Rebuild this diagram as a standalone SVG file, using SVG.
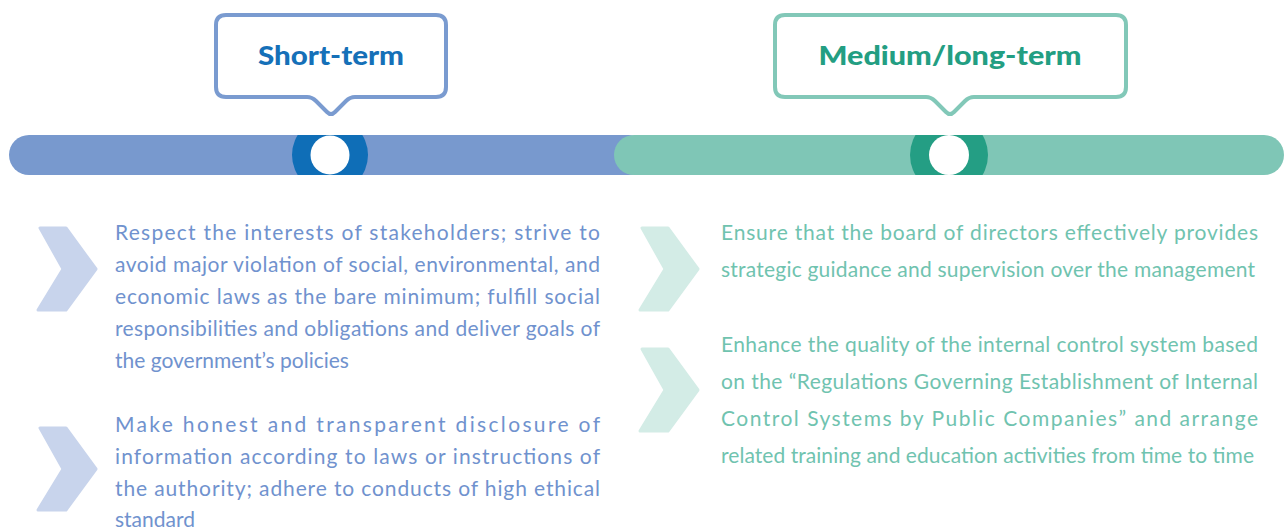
<svg xmlns="http://www.w3.org/2000/svg" xmlns:xlink="http://www.w3.org/1999/xlink" width="1285" height="527" viewBox="0 0 1285 527">
  <style>
    .title { font-family: Lato, "Liberation Sans", sans-serif; font-weight: 900; font-size: 26px; text-anchor: middle; }
    .body { font-family: Lato, "Liberation Sans", sans-serif; font-size: 21px; }
    .bt { fill: #7092CE; }
    .gt { fill: #70C3AF; }
    .callout { fill: #FFFFFF; stroke-width: 4; stroke-linejoin: round; }
  </style>
  <defs>
    <path id="chev" d="M40 228 L66 228 L96 269 L66 310 L38 310 L63 269 Z" stroke-width="3" stroke-linejoin="round"/>
    <clipPath id="barclip"><rect x="0" y="135" width="1285" height="40"/></clipPath>
  </defs>
  <rect width="1285" height="527" fill="#FFFFFF"/>

  <g id="timeline">
    <rect x="9" y="135" width="640" height="40" rx="20" fill="#7899CE"/>
    <rect x="614" y="135" width="670" height="40" rx="20" fill="#7FC6B6"/>
  </g>

  <g id="short-term">
    <path class="callout" stroke="#7A9BD0" d="M226 15 H436 Q446 15 446 25 V87 Q446 97 436 97 H355 Q350 97 346 101 L335 112 Q331 116 327 112 L316 101 Q312 97 307 97 H226 Q216 97 216 87 V25 Q216 15 226 15 Z"/>
    <text class="title" x="331" y="65" fill="#1570B8" textLength="146" lengthAdjust="spacingAndGlyphs">Short-term</text>
    <circle cx="330" cy="155" r="38" fill="#0F6EB7" clip-path="url(#barclip)"/>
    <circle cx="330" cy="155" r="19.5" fill="#FFFFFF"/>
  </g>

  <g id="medium-long-term">
    <path class="callout" stroke="#82C8B8" d="M785 15 H1116 Q1126 15 1126 25 V87 Q1126 97 1116 97 H974 Q969 97 965 101 L954 112 Q950 116 946 112 L935 101 Q931 97 926 97 H785 Q775 97 775 87 V25 Q775 15 785 15 Z"/>
    <text class="title" x="950" y="65" fill="#239E82" textLength="263" lengthAdjust="spacingAndGlyphs">Medium/long-term</text>
    <circle cx="949" cy="155" r="39" fill="#249E84" clip-path="url(#barclip)"/>
    <circle cx="949" cy="155" r="20" fill="#FFFFFF"/>
  </g>

  <g id="short-item-1">
    <use xlink:href="#chev" fill="#C8D4EC" stroke="#C8D4EC"/>
    <text class="body bt"><tspan x="115" y="240" textLength="485" lengthAdjust="spacing">Respect the interests of stakeholders; strive to</tspan></text>
    <text class="body bt"><tspan x="115" y="272" textLength="485" lengthAdjust="spacing">avoid major violation of social, environmental, and</tspan></text>
    <text class="body bt"><tspan x="115" y="304" textLength="485" lengthAdjust="spacing">economic laws as the bare minimum; fulfill social</tspan></text>
    <text class="body bt"><tspan x="115" y="336" textLength="485" lengthAdjust="spacing">responsibilities and obligations and deliver goals of</tspan></text>
    <text class="body bt" x="115" y="368">the government’s policies</text>
  </g>

  <g id="short-item-2">
    <use xlink:href="#chev" y="200" fill="#C8D4EC" stroke="#C8D4EC"/>
    <text class="body bt"><tspan x="115" y="432" textLength="485" lengthAdjust="spacing">Make honest and transparent disclosure of</tspan></text>
    <text class="body bt"><tspan x="115" y="464" textLength="485" lengthAdjust="spacing">information according to laws or instructions of</tspan></text>
    <text class="body bt"><tspan x="115" y="496" textLength="485" lengthAdjust="spacing">the authority; adhere to conducts of high ethical</tspan></text>
    <text class="body bt" x="115" y="527">standard</text>
  </g>

  <g id="long-item-1">
    <use xlink:href="#chev" x="602" fill="#D3ECE6" stroke="#D3ECE6"/>
    <text class="body gt"><tspan x="721" y="240" textLength="537" lengthAdjust="spacing">Ensure that the board of directors effectively provides</tspan></text>
    <text class="body gt"><tspan x="721" y="277" textLength="534" lengthAdjust="spacing">strategic guidance and supervision over the management</tspan></text>
  </g>

  <g id="long-item-2">
    <use xlink:href="#chev" x="602" y="121" fill="#D3ECE6" stroke="#D3ECE6"/>
    <text class="body gt"><tspan x="721" y="352" textLength="537" lengthAdjust="spacing">Enhance the quality of the internal control system based</tspan></text>
    <text class="body gt"><tspan x="721" y="389" textLength="537" lengthAdjust="spacing">on the “Regulations Governing Establishment of Internal</tspan></text>
    <text class="body gt"><tspan x="721" y="426" textLength="537" lengthAdjust="spacing">Control Systems by Public Companies” and arrange</tspan></text>
    <text class="body gt"><tspan x="721" y="463" textLength="533" lengthAdjust="spacing">related training and education activities from time to time</tspan></text>
  </g>

  <g id="connectors"></g>
</svg>
